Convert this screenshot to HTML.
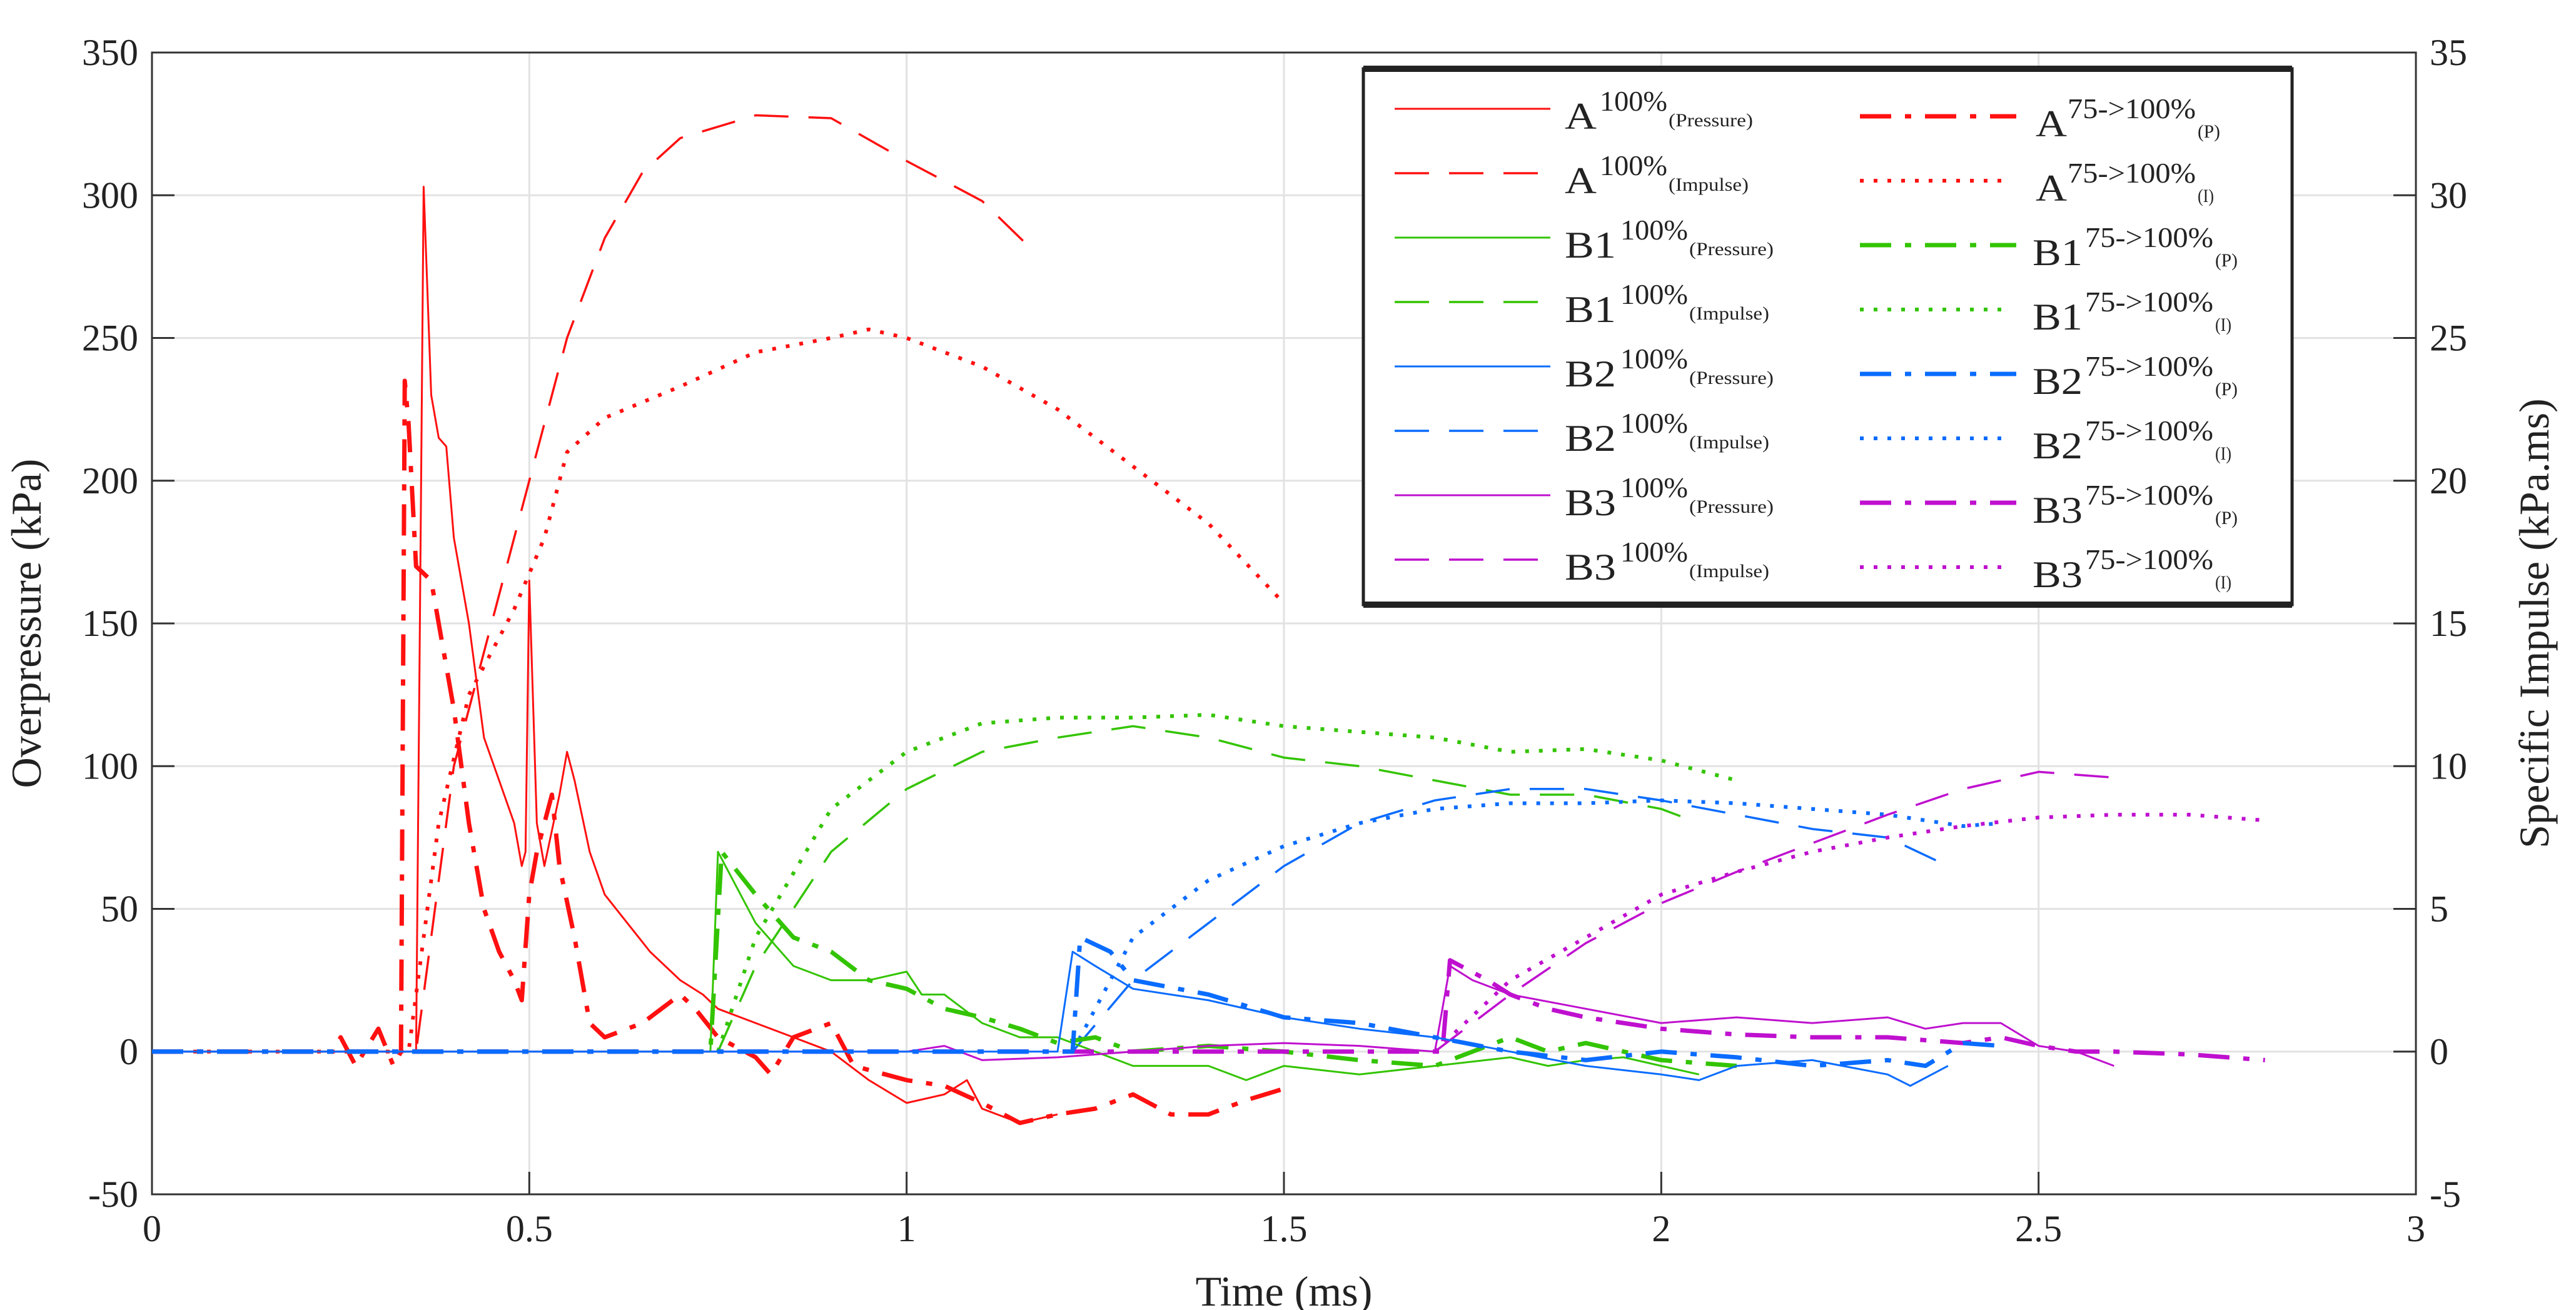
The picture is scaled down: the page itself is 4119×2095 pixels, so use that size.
<!DOCTYPE html>
<html><head><meta charset="utf-8"><style>
html,body{margin:0;padding:0;background:#fff;}
svg{display:block;font-family:"Liberation Serif",serif;}
</style></head><body>
<svg id="chart" width="4119" height="2095" viewBox="0 0 4119 2095" xmlns="http://www.w3.org/2000/svg">
<rect x="0" y="0" width="4119" height="2095" fill="#fff"/>
<g id="grid"></g>
<g id="axes"></g>
<g id="series"></g>
<text x="2053" y="2088" font-size="68" text-anchor="middle" fill="#222">Time (ms)</text>
<text transform="translate(65,997) rotate(-90)" font-size="68" text-anchor="middle" fill="#222">Overpressure (kPa)</text>
<text transform="translate(4075,997) rotate(-90)" font-size="68" text-anchor="middle" fill="#222">Specific Impulse (kPa.ms)</text>
<g id="legend"></g>
</svg>
<script>
const xTicks=[0,0.5,1,1.5,2,2.5,3];
const xTickLabels=["0","0.5","1","1.5","2","2.5","3"];
const yTicks=[-50,0,50,100,150,200,250,300,350];
const y2Ticks=[-5,0,5,10,15,20,25,30,35];

// Pressure series (kPa, left axis)
const A100P_t=[0,0.35,0.355,0.36,0.37,0.38,0.39,0.40,0.42,0.44,0.46,0.48,0.49,0.495,0.50,0.51,0.52,0.54,0.55,0.56,0.58,0.60,0.63,0.66,0.70,0.73,0.75,0.80,0.85,0.90,0.95,1.00,1.05,1.08,1.10,1.15,1.20];
const A100P_v=[0,0,150,303,230,215,212,180,150,110,95,80,65,70,165,80,65,90,105,95,70,55,45,35,25,20,15,10,5,0,-10,-18,-15,-10,-20,-25,-22];
const A75P_t=[0,0.24,0.25,0.27,0.30,0.32,0.33,0.335,0.34,0.35,0.37,0.38,0.40,0.42,0.44,0.46,0.48,0.49,0.50,0.51,0.53,0.54,0.56,0.58,0.60,0.65,0.70,0.72,0.75,0.80,0.82,0.85,0.90,0.93,1.00,1.05,1.10,1.15,1.20,1.25,1.30,1.35,1.40,1.45,1.50];
const A75P_v=[0,0,5,-5,8,-5,0,235,220,170,165,150,120,80,50,35,25,18,55,70,90,65,40,10,5,10,20,15,5,-2,-8,5,10,-5,-10,-12,-18,-25,-22,-20,-15,-22,-22,-17,-13];
const B1P_t=[0,0.74,0.75,0.77,0.80,0.85,0.90,0.95,1.00,1.02,1.05,1.10,1.15,1.20,1.25,1.30,1.35,1.40,1.45,1.50,1.60,1.70,1.80,1.85,1.90,1.95,2.00,2.05];
const B1P_v=[0,0,70,60,45,30,25,25,28,20,20,10,5,5,0,-5,-5,-5,-10,-5,-8,-5,-2,-5,-3,-2,-5,-8];
const B1P75_t=[0,0.74,0.755,0.80,0.85,0.90,0.95,1.00,1.05,1.10,1.15,1.20,1.25,1.30,1.40,1.50,1.60,1.70,1.80,1.85,1.90,2.00,2.10];
const B1P75_v=[0,0,70,55,40,35,25,22,15,12,8,3,5,0,2,0,-3,-5,5,0,3,-3,-5];
const B2P_t=[0,1.20,1.22,1.25,1.30,1.35,1.40,1.50,1.60,1.70,1.80,1.90,2.00,2.05,2.10,2.20,2.30,2.33,2.38];
const B2P_v=[0,0,35,30,22,20,18,12,8,5,0,-5,-8,-10,-5,-3,-8,-12,-5];
const B2P75_t=[0,1.22,1.23,1.27,1.30,1.40,1.50,1.60,1.70,1.80,1.90,2.00,2.10,2.20,2.30,2.35,2.40,2.45];
const B2P75_v=[0,0,40,35,25,20,12,10,5,0,-3,0,-2,-5,-3,-5,3,2];
const B3P_t=[0,1.00,1.05,1.10,1.20,1.30,1.40,1.50,1.60,1.70,1.72,1.75,1.80,1.90,2.00,2.10,2.20,2.30,2.35,2.40,2.45,2.50,2.55,2.60];
const B3P_v=[0,0,2,-3,-2,0,2,3,2,0,30,25,20,15,10,12,10,12,8,10,10,2,0,-5];
const B3P75_t=[0,1.71,1.72,1.77,1.80,1.85,1.90,2.00,2.10,2.20,2.30,2.40,2.45,2.50,2.55,2.60,2.70,2.80];
const B3P75_v=[0,0,32,25,20,15,12,8,6,5,5,3,5,2,0,0,-1,-3];

// Impulse series (kPa.ms, right axis)
const A100I_t=[0,0.35,0.40,0.45,0.50,0.55,0.60,0.65,0.70,0.80,0.90,1.00,1.10,1.17];
const A100I_v=[0,0,10,15,20,25,28.5,30.8,32,32.8,32.7,31.2,29.8,28];
const A75I_t=[0,0.34,0.38,0.42,0.48,0.52,0.55,0.60,0.70,0.80,0.90,0.95,1.00,1.10,1.20,1.30,1.40,1.50];
const A75I_v=[0,0,8,12.5,15.5,18,21,22.2,23.3,24.5,25,25.3,25,24,22.5,20.5,18.5,15.7];
const B1I_t=[0.75,0.80,0.90,1.00,1.10,1.20,1.30,1.40,1.50,1.60,1.70,1.80,1.90,2.00,2.03];
const B1I_v=[0,3,7,9.2,10.5,11,11.4,11,10.3,10,9.5,9,9,8.5,8.2];
const B1I75_t=[0.75,0.80,0.90,1.00,1.10,1.20,1.30,1.40,1.50,1.60,1.70,1.80,1.90,2.00,2.10];
const B1I75_v=[0,4,8.5,10.5,11.5,11.7,11.7,11.8,11.4,11.2,11,10.5,10.6,10.2,9.5];
const B2I_t=[1.22,1.30,1.40,1.50,1.60,1.70,1.80,1.90,2.00,2.10,2.20,2.30,2.38];
const B2I_v=[0,2.5,4.5,6.5,8,8.8,9.2,9.2,8.8,8.3,7.8,7.5,6.5];
const B2I75_t=[1.22,1.30,1.40,1.50,1.60,1.70,1.80,1.90,2.00,2.10,2.20,2.30,2.40,2.45];
const B2I75_v=[0,4,6,7.2,8,8.5,8.7,8.7,8.8,8.7,8.5,8.3,7.9,8];
const B3I_t=[1.70,1.80,1.90,2.00,2.10,2.20,2.30,2.40,2.50,2.60];
const B3I_v=[0,2,3.8,5.2,6.3,7.3,8.3,9.2,9.8,9.6];
const B3I75_t=[1.70,1.80,1.90,2.00,2.10,2.20,2.30,2.40,2.50,2.60,2.70,2.80];
const B3I75_v=[0,2.5,4,5.5,6.3,7,7.5,7.9,8.2,8.3,8.3,8.1];

const L=243,R=3863,T=84,B=1910;
const xs=t=>L+(t-0)/(3-0)*(R-L);
const yL=v=>B-(v+50)/400*(B-T);
const yR=v=>B-(v+5)/40*(B-T);
const NS="http://www.w3.org/2000/svg";
function mk(tag,attrs,parent){const e=document.createElementNS(NS,tag);for(const k in attrs)e.setAttribute(k,attrs[k]);parent.appendChild(e);return e;}
const grid=document.getElementById('grid'),axes=document.getElementById('axes'),ser=document.getElementById('series'),leg=document.getElementById('legend');

xTicks.forEach((t,i)=>{
  const g=mk('line',{x1:xs(t),x2:xs(t),y1:T,y2:B,stroke:'#e2e2e2','stroke-width':3},grid);
  
  
  const tk=mk('line',{x1:xs(t),x2:xs(t),y1:B,y2:B-36,stroke:'#333','stroke-width':3},axes);
  
  
  const lb=mk('text',{x:xs(t),y:B+75,'font-size':60,'text-anchor':'middle',fill:'#222'},axes);
  lb.textContent=xTickLabels[i];
  
  
});
yTicks.forEach((v,i)=>{
  const g=mk('line',{x1:L,x2:R,y1:yL(v),y2:yL(v),stroke:'#e2e2e2','stroke-width':3},grid);
  
  
  const tk=mk('line',{x1:L,x2:L+36,y1:yL(v),y2:yL(v),stroke:'#333','stroke-width':3},axes);
  
  
  const lb=mk('text',{x:L-22,y:yL(v)+20,'font-size':60,'text-anchor':'end',fill:'#222'},axes);
  lb.textContent=String(v);
  
  
});
y2Ticks.forEach(v=>{
  const tk=mk('line',{x1:R,x2:R-36,y1:yR(v),y2:yR(v),stroke:'#333','stroke-width':3},axes);
  
  
  const lb=mk('text',{x:R+22,y:yR(v)+20,'font-size':60,'text-anchor':'start',fill:'#222'},axes);
  lb.textContent=String(v);
  
  
});
const fr=mk('rect',{x:L,y:T,width:R-L,height:B-T,fill:'none',stroke:'#333','stroke-width':3},axes);



const RED='#ff1010',GRN='#33c400',BLU='#0a6cff',MAG='#bf10cf';
const STY={solid:{w:3,d:''},dash:{w:3.5,d:'55 32'},dashdot:{w:7,d:'50 22 10 22'},dot:{w:6,d:'6 16'}};
function draw(ts,vs,yf,col,st,name){
  const pts=ts.map((t,i)=>xs(t).toFixed(1)+','+yf(vs[i]).toFixed(1)).join(' ');
  const s=STY[st];
  const p=mk('polyline',{points:pts,fill:'none',stroke:col,'stroke-width':s.w,'stroke-dasharray':s.d,'stroke-linejoin':'round'},ser);
  
  
}
draw(A100I_t,A100I_v,yR,RED,'dash','series-a-100-impulse');
draw(A75I_t,A75I_v,yR,RED,'dot','series-a-75-100-impulse');
draw(B1I_t,B1I_v,yR,GRN,'dash','series-b1-100-impulse');
draw(B1I75_t,B1I75_v,yR,GRN,'dot','series-b1-75-100-impulse');
draw(B2I_t,B2I_v,yR,BLU,'dash','series-b2-100-impulse');
draw(B2I75_t,B2I75_v,yR,BLU,'dot','series-b2-75-100-impulse');
draw(B3I_t,B3I_v,yR,MAG,'dash','series-b3-100-impulse');
draw(B3I75_t,B3I75_v,yR,MAG,'dot','series-b3-75-100-impulse');
draw(A100P_t,A100P_v,yL,RED,'solid','series-a-100-pressure');
draw(A75P_t,A75P_v,yL,RED,'dashdot','series-a-75-100-pressure');
draw(B1P_t,B1P_v,yL,GRN,'solid','series-b1-100-pressure');
draw(B1P75_t,B1P75_v,yL,GRN,'dashdot','series-b1-75-100-pressure');
draw(B3P_t,B3P_v,yL,MAG,'solid','series-b3-100-pressure');
draw(B3P75_t,B3P75_v,yL,MAG,'dashdot','series-b3-75-100-pressure');
draw(B2P_t,B2P_v,yL,BLU,'solid','series-b2-100-pressure');
draw(B2P75_t,B2P75_v,yL,BLU,'dashdot','series-b2-75-100-pressure');

// legend
const lb=mk('rect',{x:2180,y:110,width:1485,height:857,fill:'#fff',stroke:'#222','stroke-width':5},leg);


mk('line',{x1:2180,x2:3665,y1:110,y2:110,stroke:'#222','stroke-width':10},leg);
mk('line',{x1:2180,x2:3665,y1:967,y2:967,stroke:'#222','stroke-width':10},leg);
const legNames=['A','A','B1','B1','B2','B2','B3','B3'];
const legCols=[RED,RED,GRN,GRN,BLU,BLU,MAG,MAG];
function txt(x,y,size,w,str,name){
  const t=mk('text',{x:x,y:y,'font-size':size,fill:'#222',textLength:w,lengthAdjust:'spacingAndGlyphs'},leg);
  t.textContent=str;
  
  
}
for(let i=0;i<8;i++){
  const y=174+i*103;
  const isP=i%2===0;
  const isA=i<2;
  const s1=STY[isP?'solid':'dash'];
  const l1=mk('line',{x1:2230,x2:2479,y1:y,y2:y,stroke:legCols[i],'stroke-width':s1.w,'stroke-dasharray':s1.d},leg);
  
  
  txt(2502,y+32,60,isA?51:82,legNames[i],'legend-entry-label');
  const sx=isA?2558:2591;
  txt(sx,y+3,46,108,'100%','legend-entry-superscript');
  txt(sx+110,y+28,30,isP?135:128,isP?'(Pressure)':'(Impulse)','legend-entry-subscript');

  const y2=y+12;
  const s2=STY[isP?'dashdot':'dot'];
  const l2=mk('line',{x1:2974,x2:isP?3224:3208,y1:y2,y2:y2,stroke:legCols[i],'stroke-width':s2.w,'stroke-dasharray':s2.d},leg);
  
  
  const rx=isA?3255:3250;
  txt(rx,y2+32,60,isA?50:80,legNames[i],'legend-entry-label');
  const rsx=isA?3306:3334;
  txt(rsx,y2+3,46,205,'75->100%','legend-entry-superscript');
  txt(rsx+208,y2+34,30,isP?36:26,isP?'(P)':'(I)','legend-entry-subscript');
}
</script>
</body></html>
